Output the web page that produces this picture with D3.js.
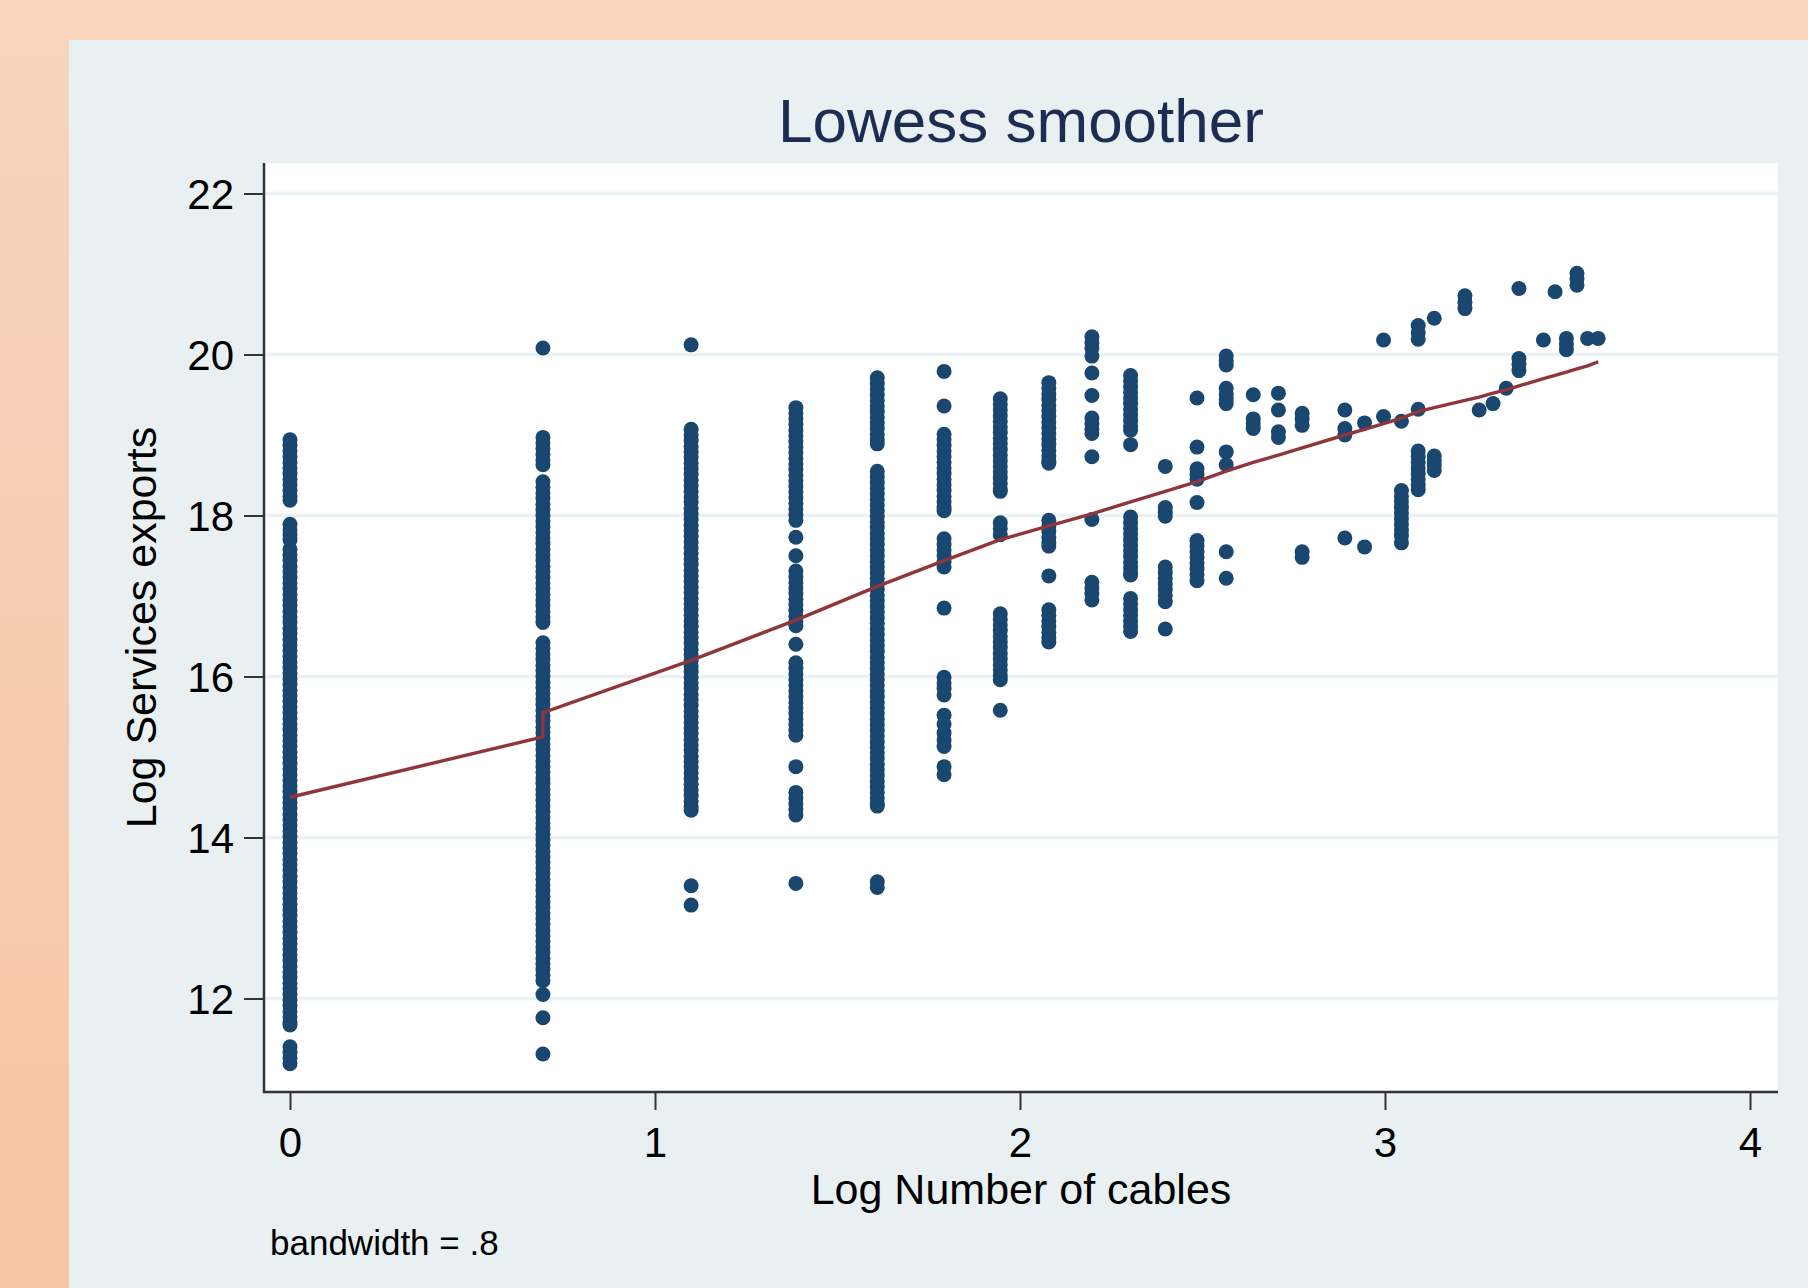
<!DOCTYPE html>
<html>
<head>
	<title>Lowess smoother</title>
	<script src="https://d3js.org/d3.v7.min.js"></script>
	<style type="text/css">
		body { margin: 0; }
		text { font-family: "Liberation Sans", Arial, sans-serif; }
	</style>
</head>
<body>
<div id="chart"></div>

<script type="text/javascript">
	// x = log number of cables, one entry per column of points
	var logCables = [0, 0.693, 1.099, 1.386, 1.609, 1.792, 1.946, 2.079, 2.197, 2.303, 2.398,
		2.485, 2.565, 2.639, 2.708, 2.773, 2.890, 2.944, 2.996, 3.045, 3.091, 3.135, 3.219,
		3.258, 3.296, 3.332, 3.367, 3.434, 3.466, 3.497, 3.526, 3.555, 3.584];

	// y = log services exports (dense columns are many overlapping points)
	var logExports = [
		[18.94, 18.87, 18.8, 18.73, 18.66, 18.59, 18.52, 18.45, 18.38, 18.31, 18.24, 18.19,
		 17.89, 17.82, 17.76, 17.7, 17.58, 17.51, 17.44, 17.37, 17.3, 17.23, 17.16, 17.09, 17.02,
		 16.95, 16.88, 16.81, 16.74, 16.67, 16.6, 16.53, 16.46, 16.39, 16.32, 16.25, 16.18, 16.11,
		 16.04, 15.97, 15.9, 15.83, 15.76, 15.69, 15.62, 15.55, 15.48, 15.41, 15.34, 15.27, 15.2,
		 15.13, 15.06, 14.99, 14.92, 14.85, 14.78, 14.71, 14.64, 14.57, 14.5, 14.43, 14.36, 14.29,
		 14.22, 14.15, 14.08, 14.01, 13.94, 13.87, 13.8, 13.73, 13.66, 13.59, 13.52, 13.45, 13.38,
		 13.31, 13.24, 13.17, 13.1, 13.03, 12.96, 12.89, 12.82, 12.75, 12.68, 12.61, 12.54, 12.47,
		 12.4, 12.33, 12.26, 12.19, 12.12, 12.05, 11.98, 11.91, 11.84, 11.77, 11.7, 11.67,
		 11.4, 11.33, 11.26, 11.19],
		[20.08, 18.97, 18.9, 18.83, 18.76, 18.69, 18.63,
		 18.42, 18.35, 18.28, 18.21, 18.14, 18.07, 18.0, 17.93, 17.86, 17.79, 17.72, 17.65, 17.58,
		 17.51, 17.44, 17.37, 17.3, 17.23, 17.16, 17.09, 17.02, 16.95, 16.88, 16.81, 16.74, 16.67,
		 16.42, 16.35, 16.28, 16.21, 16.14, 16.07, 16.0, 15.93, 15.86, 15.79, 15.72, 15.65, 15.58,
		 15.51, 15.44, 15.37, 15.3, 15.23, 15.16, 15.09, 15.02, 14.95, 14.88, 14.81, 14.74, 14.67,
		 14.6, 14.53, 14.46, 14.39, 14.32, 14.25, 14.18, 14.11, 14.04, 13.97, 13.9, 13.83, 13.76,
		 13.69, 13.62, 13.55, 13.48, 13.41, 13.34, 13.27, 13.2, 13.13, 13.06, 12.99, 12.92, 12.85,
		 12.78, 12.71, 12.64, 12.57, 12.5, 12.43, 12.36, 12.29, 12.22, 12.05, 11.76, 11.31],
		[20.12, 19.07, 19.0, 18.93, 18.86, 18.79, 18.72, 18.65, 18.58, 18.51, 18.44, 18.37, 18.3,
		 18.23, 18.16, 18.09, 18.02, 17.95, 17.88, 17.81, 17.74, 17.67, 17.6, 17.53, 17.46, 17.39,
		 17.32, 17.25, 17.18, 17.11, 17.04, 16.97, 16.9, 16.83, 16.76, 16.69, 16.62, 16.55, 16.48,
		 16.41, 16.34, 16.27, 16.2, 16.13, 16.06, 15.99, 15.92, 15.85, 15.78, 15.71, 15.64, 15.57,
		 15.5, 15.43, 15.36, 15.29, 15.22, 15.15, 15.08, 15.01, 14.94, 14.87, 14.8, 14.73, 14.66,
		 14.59, 14.52, 14.45, 14.38, 14.34, 13.40, 13.16],
		[19.34, 19.27, 19.2, 19.13, 19.06, 18.99, 18.92, 18.85, 18.78, 18.71, 18.64, 18.57, 18.5,
		 18.43, 18.36, 18.29, 18.22, 18.15, 18.08, 18.01, 17.94, 17.73, 17.5,
		 17.31, 17.24, 17.17, 17.1, 17.03, 16.96, 16.89, 16.82, 16.75, 16.68, 16.63, 16.4,
		 16.17, 16.1, 16.03, 15.96, 15.89, 15.82, 15.75, 15.68, 15.61, 15.54, 15.47, 15.4, 15.33,
		 15.27, 14.88, 14.56, 14.49, 14.42, 14.35, 14.28, 13.43],
		[19.71, 19.64, 19.57, 19.5, 19.43, 19.36, 19.29, 19.22, 19.15, 19.08, 19.01, 18.94, 18.89,
		 18.55, 18.48, 18.41, 18.34, 18.27, 18.2, 18.13, 18.06, 17.99, 17.92, 17.85, 17.78, 17.71,
		 17.64, 17.57, 17.5, 17.43, 17.36, 17.29, 17.22, 17.15, 17.08, 17.01, 16.94, 16.87, 16.8,
		 16.73, 16.66, 16.59, 16.52, 16.45, 16.38, 16.31, 16.24, 16.17, 16.1, 16.03, 15.96, 15.89,
		 15.82, 15.75, 15.68, 15.61, 15.54, 15.47, 15.4, 15.33, 15.26, 15.19, 15.12, 15.05, 14.98,
		 14.91, 14.84, 14.77, 14.7, 14.63, 14.56, 14.49, 14.42, 14.39, 13.45, 13.38],
		[19.79, 19.36, 19.01, 18.94, 18.87, 18.8, 18.73, 18.66, 18.59, 18.52, 18.45, 18.38, 18.31,
		 18.24, 18.17, 18.1, 18.06, 17.71, 17.64, 17.57, 17.5, 17.43, 17.36, 16.85,
		 15.99, 15.92, 15.85, 15.77, 15.52, 15.41, 15.3, 15.21, 15.13, 14.88, 14.78],
		[19.45, 19.38, 19.31, 19.24, 19.17, 19.1, 19.03, 18.96, 18.89, 18.82, 18.75, 18.68, 18.61,
		 18.54, 18.47, 18.4, 18.33, 18.3, 17.91, 17.84, 17.76,
		 16.78, 16.71, 16.64, 16.57, 16.5, 16.43, 16.36, 16.29, 16.22, 16.15, 16.08, 16.01, 15.96,
		 15.58],
		[19.65, 19.58, 19.51, 19.44, 19.37, 19.3, 19.23, 19.16, 19.09, 19.02, 18.95, 18.88, 18.81,
		 18.74, 18.67, 18.65, 17.94, 17.87, 17.8, 17.73, 17.66, 17.62, 17.25,
		 16.83, 16.76, 16.69, 16.62, 16.55, 16.48, 16.43],
		[20.22, 20.15, 20.08, 19.98, 19.77, 19.49, 19.21, 19.14, 19.07, 19.02, 18.73, 17.95,
		 17.17, 17.1, 17.03, 16.95],
		[19.74, 19.67, 19.6, 19.53, 19.46, 19.39, 19.32, 19.25, 19.18, 19.11, 19.06, 18.88,
		 17.98, 17.91, 17.84, 17.77, 17.7, 17.63, 17.56, 17.49, 17.42, 17.35, 17.28, 17.26,
		 16.97, 16.9, 16.83, 16.76, 16.69, 16.62, 16.56],
		[18.61, 18.1, 18.04, 17.99, 17.36, 17.29, 17.22, 17.15, 17.08, 17.01, 16.93, 16.59],
		[19.46, 18.85, 18.58, 18.51, 18.45, 18.16, 17.69, 17.62, 17.55, 17.48, 17.41, 17.34, 17.27, 17.19],
		[19.98, 19.92, 19.87, 19.58, 19.51, 19.45, 19.39, 18.79, 18.63, 17.55, 17.22],
		[19.5, 19.2, 19.14, 19.08],
		[19.52, 19.31, 19.04, 18.97],
		[19.27, 19.2, 19.12, 17.55, 17.48],
		[19.31, 19.08, 19.0, 17.72],
		[19.15, 17.61],
		[20.18, 19.23],
		[19.17, 18.31, 18.24, 18.17, 18.1, 18.03, 17.96, 17.89, 17.82, 17.75, 17.66],
		[20.36, 20.27, 20.19, 19.32, 18.8, 18.73, 18.66, 18.59, 18.52, 18.45, 18.38, 18.32],
		[20.45, 18.74, 18.68, 18.62, 18.56],
		[20.73, 20.65, 20.57],
		[19.31],
		[19.39],
		[19.58],
		[20.82, 19.95, 19.88, 19.8],
		[20.18],
		[20.78],
		[20.2, 20.13, 20.06],
		[21.01, 20.94, 20.86],
		[20.2],
		[20.2]
	];

	// lowess fit
	var smoothX = [0, 0.693, 0.693, 1.099, 1.386, 1.609, 1.792, 1.946, 2.079, 2.197, 2.303, 2.398,
		2.485, 2.565, 2.639, 2.708, 2.773, 2.890, 2.944, 2.996, 3.045, 3.091, 3.135, 3.219,
		3.258, 3.296, 3.332, 3.367, 3.434, 3.466, 3.497, 3.526, 3.555, 3.584];
	var smoothY = [14.50, 15.25, 15.55, 16.20, 16.70, 17.12, 17.44, 17.70, 17.87, 18.02, 18.17, 18.30,
		18.42, 18.55, 18.66, 18.75, 18.84, 19.00, 19.07, 19.14, 19.21, 19.29, 19.34, 19.43,
		19.47, 19.52, 19.56, 19.61, 19.70, 19.74, 19.78, 19.82, 19.86, 19.91];

	var xTicks = [0, 1, 2, 3, 4];
	var yTicks = [12, 14, 16, 18, 20, 22];

	var width = 1808,
	    height = 1288;

	// plot region
	var plotLeft = 264, plotRight = 1778, plotTop = 163, plotBottom = 1092;

	var svg = d3.select("#chart")
	    .append("svg")
	    .attr("width", width)
	    .attr("height", height);

	var defs = svg.append("defs");
	var grad = defs.append("linearGradient")
	    .attr("id", "peach")
	    .attr("x1", 0).attr("y1", 0)
	    .attr("x2", 0).attr("y2", 1);
	grad.append("stop").attr("offset", "0%").attr("stop-color", "#f8d5bd");
	grad.append("stop").attr("offset", "100%").attr("stop-color", "#f6c5a3");

	svg.append("rect")
	    .attr("width", width)
	    .attr("height", height)
	    .attr("fill", "url(#peach)");

	// graph region
	svg.append("rect")
	    .attr("x", 69)
	    .attr("y", 40)
	    .attr("width", width - 69)
	    .attr("height", height - 40)
	    .attr("fill", "#e8f0f2");

	svg.append("rect")
	    .attr("x", plotLeft)
	    .attr("y", plotTop)
	    .attr("width", plotRight - plotLeft)
	    .attr("height", plotBottom - plotTop)
	    .attr("fill", "#ffffff");

	var xScale = d3.scaleLinear()
	    .domain([0, 4])
	    .range([290, 1750]);

	var yScale = d3.scaleLinear()
	    .domain([12, 22])
	    .range([998.5, 193.5]);

	// grid lines
	svg.append("g")
	    .selectAll("line")
	    .data(yTicks)
	    .enter()
	    .append("line")
	    .attr("x1", plotLeft)
	    .attr("x2", plotRight)
	    .attr("y1", d => yScale(d))
	    .attr("y2", d => yScale(d))
	    .attr("stroke", "#eaf2f3")
	    .attr("stroke-width", 3.5);

	// scatter points
	var points = [];
	logCables.forEach(function(x, i) {
	    logExports[i].forEach(function(y) {
	        points.push({x: x, y: y});
	    });
	});

	svg.append("g")
	    .selectAll("circle")
	    .data(points)
	    .enter()
	    .append("circle")
	    .attr("cx", d => xScale(d.x))
	    .attr("cy", d => yScale(d.y))
	    .attr("r", 7.5)
	    .attr("fill", "#1a476f");

	// lowess line
	var line = d3.line()
	    .x(d => xScale(d[0]))
	    .y(d => yScale(d[1]));

	svg.append("path")
	    .datum(d3.zip(smoothX, smoothY))
	    .attr("d", line)
	    .attr("fill", "none")
	    .attr("stroke", "#90353b")
	    .attr("stroke-width", 3.4);

	// axes
	var xAxis = d3.axisBottom(xScale)
	    .tickValues(xTicks)
	    .tickSizeInner(18)
	    .tickSizeOuter(0)
	    .tickPadding(17)
	    .tickFormat(d3.format("d"));

	var yAxis = d3.axisLeft(yScale)
	    .tickValues(yTicks)
	    .tickSizeInner(20)
	    .tickSizeOuter(0)
	    .tickPadding(10)
	    .tickFormat(d3.format("d"));

	var gX = svg.append("g")
	    .attr("transform", "translate(0," + plotBottom + ")")
	    .call(xAxis);

	var gY = svg.append("g")
	    .attr("transform", "translate(" + plotLeft + ",0)")
	    .call(yAxis);

	[gX, gY].forEach(function(g) {
	    g.select(".domain").remove();
	    g.selectAll(".tick line").attr("stroke", "#333333").attr("stroke-width", 2);
	    g.selectAll(".tick text")
	        .attr("fill", "#000000")
	        .style("font-size", "42px")
	        .style("font-family", "'Liberation Sans', Arial, sans-serif");
	});
	gY.selectAll(".tick text").attr("dy", "0.36em");

	// axis lines
	svg.append("line")
	    .attr("x1", plotLeft).attr("x2", plotLeft)
	    .attr("y1", plotTop).attr("y2", plotBottom + 1)
	    .attr("stroke", "#333333")
	    .attr("stroke-width", 2.5);
	svg.append("line")
	    .attr("x1", plotLeft - 1).attr("x2", plotRight)
	    .attr("y1", plotBottom).attr("y2", plotBottom)
	    .attr("stroke", "#333333")
	    .attr("stroke-width", 2.5);

	// titles
	svg.append("text")
	    .attr("x", (plotLeft + plotRight) / 2)
	    .attr("y", 142)
	    .attr("text-anchor", "middle")
	    .attr("fill", "#1e2b52")
	    .style("font-size", "62px")
	    .text("Lowess smoother");

	svg.append("text")
	    .attr("x", (plotLeft + plotRight) / 2)
	    .attr("y", 1204)
	    .attr("text-anchor", "middle")
	    .attr("fill", "#000000")
	    .style("font-size", "43px")
	    .text("Log Number of cables");

	svg.append("text")
	    .attr("transform", "translate(156," + ((plotTop + plotBottom) / 2) + ") rotate(-90)")
	    .attr("text-anchor", "middle")
	    .attr("fill", "#000000")
	    .style("font-size", "43px")
	    .text("Log Services exports");

	svg.append("text")
	    .attr("x", 270)
	    .attr("y", 1255)
	    .attr("fill", "#000000")
	    .style("font-size", "35px")
	    .text("bandwidth = .8");
</script>

</body>
</html>
